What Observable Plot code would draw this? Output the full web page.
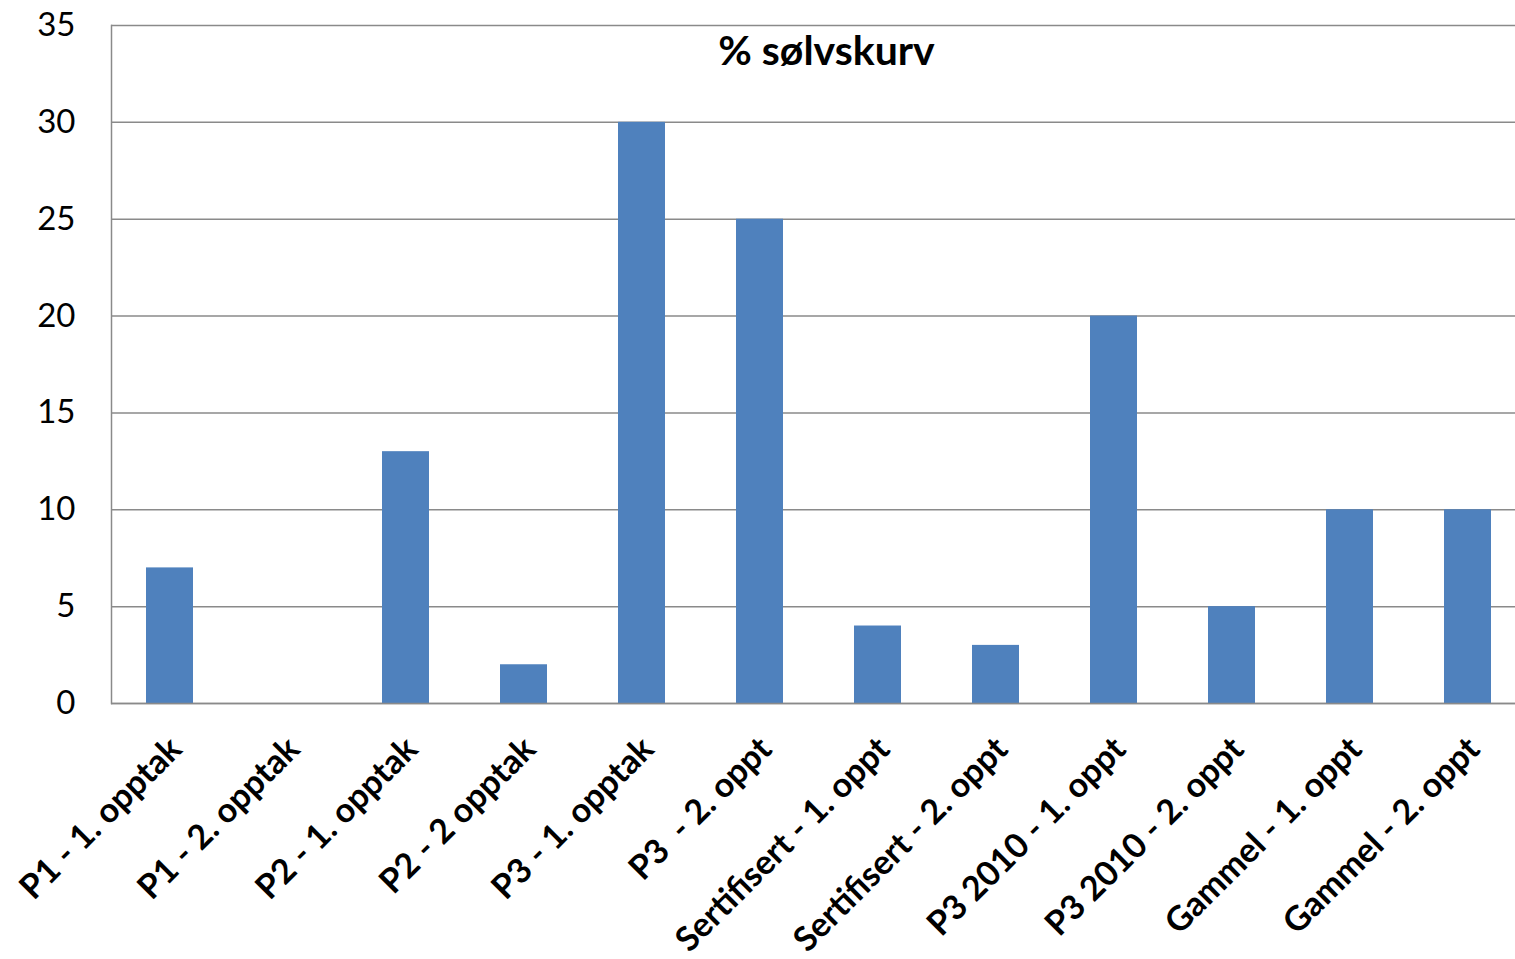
<!DOCTYPE html>
<html>
<head>
<meta charset="utf-8">
<script src="https://cdn.jsdelivr.net/npm/d3@7"></script>
<script src="https://cdn.jsdelivr.net/npm/@observablehq/plot@0.6"></script>
<style>
  html, body { margin: 0; padding: 0; background: #fff; overflow: hidden; }
  #chart svg { display: block; }
</style>
</head>
<body>
<div id="chart"></div>
<script>
const categories = [
  "P1 - 1. opptak", "P1 - 2. opptak", "P2 - 1. opptak", "P2 - 2 opptak",
  "P3 - 1. opptak", "P3 \u00a0- 2. oppt", "Sertifisert - 1. oppt", "Sertifisert - 2. oppt",
  "P3 2010 - 1. oppt", "P3 2010 - 2. oppt", "Gammel - 1. oppt", "Gammel - 2. oppt"
];
const values = [7, 0, 13, 2, 30, 25, 4, 3, 20, 5, 10, 10];
const yTicks = [0, 5, 10, 15, 20, 25, 30, 35];
const title = "% sølvskurv";

const data = categories.map((c, i) => ({category: c, value: values[i]}));

const chart = Plot.plot({
  width: 1515,
  height: 959,
  marginLeft: 111,
  marginRight: -12,
  marginTop: 25,
  marginBottom: 256,
  style: {fontFamily: "Lato, sans-serif", color: "#000", background: "#fff"},
  x: {domain: categories, paddingInner: 0.6, paddingOuter: 0.3, axis: null},
  y: {domain: [0, 35], axis: null},
  marks: [
    Plot.ruleY(yTicks, {stroke: "#8a8a8a", strokeWidth: 1.5}),
    Plot.barY(data, {x: "category", y: "value", fill: "#4F81BD"}),
    Plot.frame({anchor: "left", stroke: "#8a8a8a", strokeWidth: 1.5}),
    Plot.ruleY([0], {stroke: "#8a8a8a", strokeWidth: 1.5}),
    Plot.axisY({ticks: yTicks, label: null, tickSize: 0, tickPadding: 36, fontSize: 33, tickFormat: d => String(d)}),
    Plot.text(data, {
      x: "category", y: 0, text: "category", rotate: -45,
      textAnchor: "end", lineAnchor: "middle",
      dx: 6, dy: 40, fontSize: 34, fontWeight: "bold", fill: "#000"
    }),
    Plot.text([title], {frameAnchor: "top", lineAnchor: "middle", dx: 7, dy: 26, fontSize: 41, fontWeight: "bold", fill: "#000"})
  ]
});
document.getElementById("chart").appendChild(chart);
</script>
</body>
</html>
